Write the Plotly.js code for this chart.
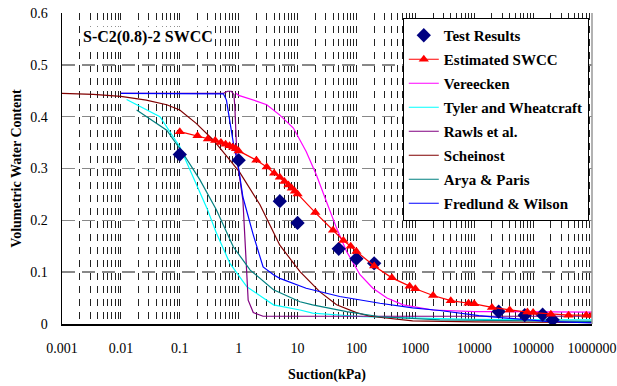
<!DOCTYPE html>
<html>
<head>
<meta charset="utf-8">
<script src="https://cdn.plot.ly/plotly-3.0.1.min.js"></script>
<style>html,body{margin:0;padding:0;background:#fff}#chart{width:617px;height:386px}</style>
</head>
<body>
<div id="chart"></div>
<script>
// Test results
var testX = [0.1, 1, 5, 10, 50, 100, 200, 26000, 72000, 145000, 214000];
var testY = [0.327, 0.316, 0.237, 0.195, 0.145, 0.126, 0.117, 0.024, 0.017, 0.018, 0.008];
// Estimated SWCC
var estX = [0.1,0.2,0.3,0.4,0.5,0.6,0.7,0.8,0.9,1,2,3,4,5,6,7,8,9,10,20,40,60,80,100,200,400,800,1000,2000,4000,8000,10000,20000,40000,80000,100000,200000,400000,800000,1000000];
var estY = [0.371,0.363,0.357,0.354,0.350,0.347,0.344,0.341,0.338,0.334,0.316,0.303,0.291,0.283,0.275,0.268,0.262,0.256,0.251,0.215,0.181,0.161,0.150,0.140,0.112,0.089,0.073,0.068,0.055,0.045,0.040,0.039,0.032,0.027,0.023,0.022,0.019,0.017,0.017,0.017];
// Vereecken
var verX = [0.9, 1.0, 2, 3, 5, 8.5, 14, 21, 31, 46, 68, 115, 190, 330, 620, 2000, 10000, 100000, 1000000];
var verY = [0.445, 0.441, 0.43, 0.423, 0.403, 0.378, 0.333, 0.287, 0.236, 0.185, 0.14, 0.095, 0.069, 0.05, 0.037, 0.027, 0.024, 0.023, 0.023];
// Tyler and Wheatcraft
var tyX = [0.0125, 0.046, 0.1, 0.17, 0.29, 0.42, 0.71, 1.37, 3.9, 11, 18, 130, 10000, 1000000];
var tyY = [0.433, 0.40, 0.342, 0.284, 0.223, 0.175, 0.117, 0.072, 0.037, 0.027, 0.021, 0.014, 0.009, 0.008];
// Rawls et al.
var raX = [0.01, 0.55, 0.65, 0.75, 0.83, 0.86, 0.94, 1.18, 1.45, 1.77, 2.6, 10, 1000000];
var raY = [0.445, 0.445, 0.449, 0.449, 0.443, 0.42, 0.316, 0.239, 0.046, 0.022, 0.015, 0.015, 0.015];
// Scheinost
var scX = [0.001, 0.0034, 0.01, 0.027, 0.06, 0.1, 0.19, 0.37, 0.71, 1.05, 2.3, 5, 11, 24, 46, 100, 170, 900, 10000, 1000000];
var scY = [0.445, 0.443, 0.439, 0.432, 0.423, 0.413, 0.387, 0.355, 0.316, 0.292, 0.23, 0.152, 0.101, 0.062, 0.037, 0.022, 0.015, 0.006, 0.004, 0.003];
// Arya & Paris
var arX = [0.0185, 0.06, 0.114, 0.22, 0.42, 0.81, 1.57, 3.9, 11, 18, 68, 250, 2600, 100000, 1000000];
var arY = [0.413, 0.374, 0.329, 0.278, 0.22, 0.149, 0.104, 0.066, 0.043, 0.037, 0.024, 0.014, 0.008, 0.006, 0.005];
// Fredlund & Wilson
var fwX = [0.01, 0.55, 0.62, 0.71, 0.81, 1.0, 1.18, 1.77, 2.6, 3.9, 5, 14, 52, 250, 900, 2600, 12000, 31000, 170000, 1000000];
var fwY = [0.445, 0.444, 0.432, 0.394, 0.35, 0.30, 0.245, 0.172, 0.11, 0.095, 0.088, 0.069, 0.053, 0.040, 0.031, 0.026, 0.016, 0.012, 0.005, 0.002];

var xTickVals = [0.001, 0.01, 0.1, 1, 10, 100, 1000, 10000, 100000, 1000000];
var xTickText = ['0.001', '0.01', '0.1', '1', '10', '100', '1000', '10000', '100000', '1000000'];
var yTickVals = [0, 0.1, 0.2, 0.3, 0.4, 0.5, 0.6];
var yTickText = ['0', '0.1', '0.2', '0.3', '0.4', '0.5', '0.6'];

var serif = '"Liberation Serif", "Times New Roman", Times, serif';

function modelLine(name, x, y, color, rank) {
  return {type: 'scatter', mode: 'lines', name: name, x: x, y: y,
          line: {color: color, width: 1.2}, legendrank: rank, legendgroup: name};
}

var traces = [
  modelLine('Vereecken', verX, verY, '#FF00FF', 3),
  modelLine('Tyler and Wheatcraft', tyX, tyY, '#00FFFF', 4),
  modelLine('Rawls et al.', raX, raY, '#800080', 5),
  modelLine('Scheinost', scX, scY, '#800000', 6),
  modelLine('Arya & Paris', arX, arY, '#008080', 7),
  modelLine('Fredlund & Wilson', fwX, fwY, '#0000FF', 8),
  {type: 'scatter', mode: 'markers', name: 'Test Results', x: testX, y: testY,
   marker: {symbol: 'diamond', size: 11, color: '#000080'}, legendrank: 1, legendgroup: 'a'},
  {type: 'scatter', mode: 'lines+markers', name: 'Estimated SWCC', x: estX, y: estY,
   line: {color: '#FF0000', width: 1.2}, marker: {symbol: 'triangle-up', size: 9, color: '#FF0000'},
   legendrank: 2, legendgroup: 'b'}
];

var layout = {
  width: 617, height: 386,
  margin: {l: 62, r: 25, t: 13, b: 62},
  paper_bgcolor: '#fff', plot_bgcolor: '#fff',
  font: {family: serif, size: 14, color: '#000'},
  showlegend: true,
  legend: {x: 0.643, y: 0.984, xanchor: 'left', yanchor: 'top',
           bgcolor: '#fff', bordercolor: '#000', borderwidth: 1,
           font: {family: serif, size: 15, color: '#000', weight: 'bold'},
           tracegroupgap: 1.5, itemwidth: 30},
  xaxis: {
    type: 'log', range: [-3, 6], tickvals: xTickVals, ticktext: xTickText,
    showgrid: true, gridcolor: '#222', griddash: '7px,6px', gridwidth: 1,
    minor: {dtick: 'D1', showgrid: true, gridcolor: '#222', griddash: '7px,6px', gridwidth: 1},
    showline: true, linecolor: '#000', linewidth: 1.5, zeroline: false,
    ticks: '', ticklabelstandoff: 11,
    tickfont: {family: serif, size: 14},
    title: {text: 'Suction(kPa)', font: {family: serif, size: 14, weight: 'bold'}, standoff: 14}
  },
  yaxis: {
    range: [0, 0.6], tickvals: yTickVals, ticktext: yTickText,
    showgrid: true, gridcolor: '#888', griddash: '13px,7px', gridwidth: 1.5,
    showline: true, linecolor: '#000', linewidth: 1.5, zeroline: false,
    ticks: '', ticklabelstandoff: 10,
    tickfont: {family: serif, size: 14},
    title: {text: 'Volumetric Water Content', font: {family: serif, size: 14, weight: 'bold'}, standoff: 5}
  },
  shapes: [
    {type: 'line', xref: 'paper', yref: 'paper', x0: 1, x1: 1, y0: 0, y1: 1, line: {color: '#999', width: 1.5}}
  ],
  annotations: [
    {xref: 'paper', yref: 'paper', x: 0.036, y: 0.923, xanchor: 'left', yanchor: 'middle',
     text: 'S-C2(0.8)-2 SWCC', showarrow: false, bgcolor: '#fff',
     font: {family: serif, size: 16, weight: 'bold', color: '#000'}}
  ]
};

Plotly.newPlot('chart', traces, layout, {displayModeBar: false, staticPlot: true});
</script>
</body>
</html>
